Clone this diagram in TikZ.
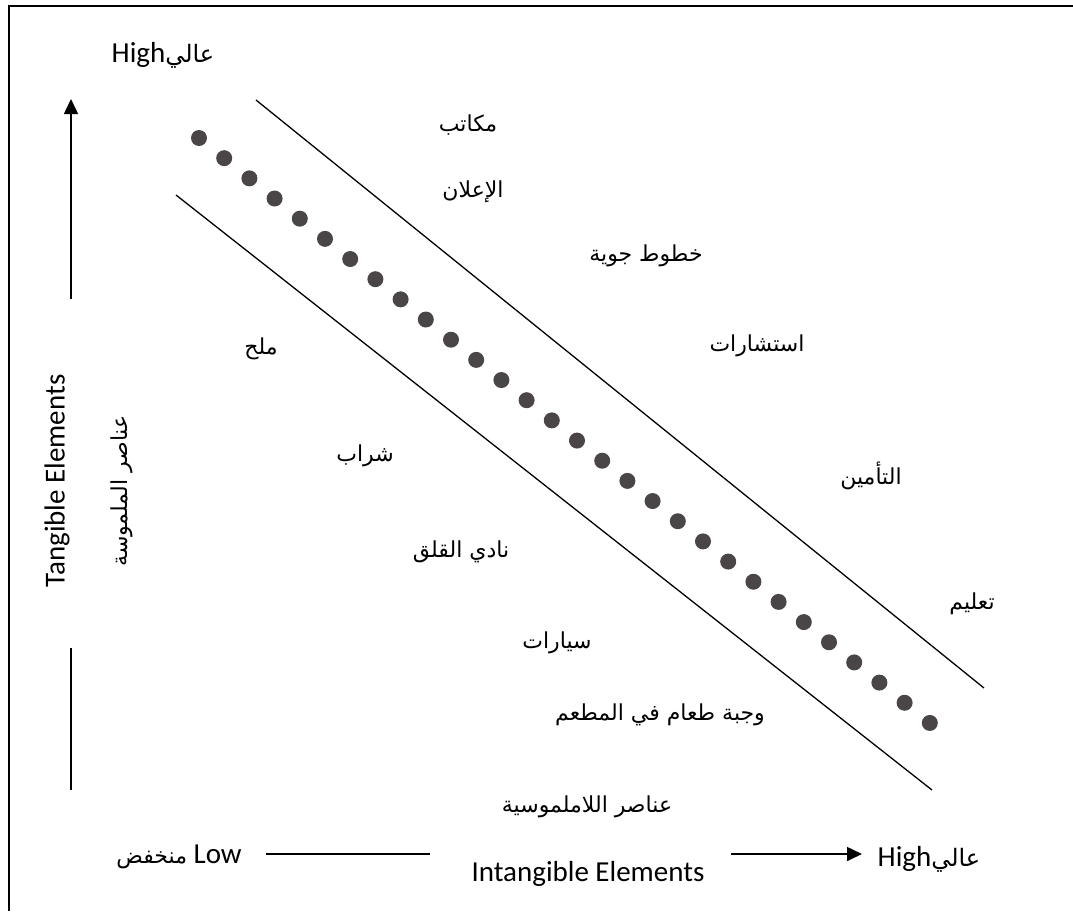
\documentclass[tikz,border=0pt]{standalone}
\usepackage{fontspec}
\setmainfont{Carlito}
\newfontfamily\arabicfont[Script=Arabic]{DejaVu Sans}
\TeXXeTstate=1
\usetikzlibrary{arrows.meta}
\definecolor{dotgray}{HTML}{4A4547}
\tikzset{
  lbl/.style={inner sep=0pt, font=\fontsize{29}{34}\selectfont},
  ar/.style={inner sep=0pt, font=\arabicfont\fontsize{22}{28}\selectfont},
  axis/.style={line width=1.6pt},
  diag/.style={line width=1.3pt},
  arr/.style={line width=1.6pt, -{Triangle[length=15pt,width=14pt]}},
  dotc/.style={circle, fill=dotgray, inner sep=0pt, minimum size=16pt},
}
\begin{document}
\begin{tikzpicture}[x=1pt,y=-1pt]
\useasboundingbox (0,0) rectangle (1073,911);
% frame (top and left visible)
\draw[line width=2.5pt] (9,911) -- (9,6) -- (1073,6);
% diagonal band
\coordinate (u1) at (256,100);
\coordinate (u2) at (984,688);
\coordinate (l1) at (176,195);
\coordinate (l2) at (932,790);
\draw[diag] (u1) -- (u2);
\draw[diag] (l1) -- (l2);
% dots
\foreach \i in {0,...,29} {
  \node[dotc] (d\i) at ({199+\i*25.2},{138+\i*20.17}) {};
}
% vertical axis
\coordinate (v1) at (71,299);
\coordinate (v2) at (71,99);
\coordinate (v3) at (71,648);
\coordinate (v4) at (71,790);
\draw[arr] (v1) -- (v2);
\draw[axis] (v3) -- (v4);
% horizontal axis
\coordinate (h1) at (266,854);
\coordinate (h2) at (430,854);
\coordinate (h3) at (731,854);
\coordinate (h4) at (862,854);
\draw[axis] (h1) -- (h2);
\draw[arr] (h3) -- (h4);
% axis labels
\node[lbl] (hightop) at (163,55) {High{\arabicfont\fontsize{24}{28}\selectfont\beginR عالي\endR}};
\node[lbl] (highright) at (929,859) {High{\arabicfont\fontsize{24}{28}\selectfont\beginR عالي\endR}};
\node[lbl] (low) at (179,857) {{\arabicfont\fontsize{22}{28}\selectfont\beginR منخفض\endR} Low};
\node[lbl] (intang) at (588,874) {Intangible Elements};
\node[lbl, rotate=90] (tang) at (57,481) {Tangible Elements};
\node[ar, rotate=90] (tangar) at (122,491) {\beginR عناصر الملموسة\endR};
\node[ar] (intangar) at (587,807) {\beginR عناصر اللاملموسية\endR};
% items above band
\node[ar] (t1) at (468,125) {\beginR مكاتب\endR};
\node[ar] (t2) at (473,192) {\beginR الإعلان\endR};
\node[ar] (t3) at (646,256) {\beginR خطوط جوية\endR};
\node[ar] (t4) at (757,346) {\beginR استشارات\endR};
\node[ar] (t5) at (871,476) {\beginR التأمين\endR};
\node[ar] (t6) at (972,604) {\beginR تعليم\endR};
% items below band
\node[ar] (b1) at (261,349) {\beginR ملح\endR};
\node[ar] (b2) at (365,456) {\beginR شراب\endR};
\node[ar] (b3) at (461,552) {\beginR نادي القلق\endR};
\node[ar] (b4) at (557,643) {\beginR سيارات\endR};
\node[ar] (b5) at (660,715) {\beginR وجبة طعام في المطعم\endR};
\end{tikzpicture}
\end{document}
